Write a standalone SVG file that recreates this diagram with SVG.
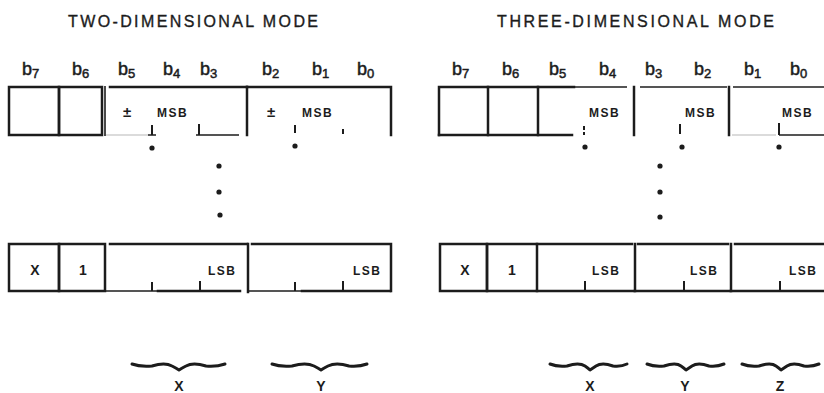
<svg xmlns="http://www.w3.org/2000/svg" width="824" height="393" viewBox="0 0 824 393">
<style>
  .bg{fill:#fff}
  .t{font-family:"Liberation Sans",Arial,sans-serif;fill:#1c1c1c}
  .title{font-size:16px;stroke:#1c1c1c;stroke-width:0.35}
  .bl{font-size:18px;stroke:#1c1c1c;stroke-width:0.5}
  .sub{font-size:13px}
  .lab{font-size:12px;font-weight:bold;letter-spacing:1.5px}
  .pm{font-size:15px;font-weight:bold}
  .big{font-size:14px;font-weight:bold;text-anchor:middle}
  .ln{stroke:#1c1c1c;stroke-width:2.5;fill:none;stroke-linecap:square}
  .thin{stroke:#1c1c1c;stroke-width:1.6;fill:none}
  .faint{stroke:#cfcfcf;stroke-width:1.5;fill:none}
  .tick{stroke:#1c1c1c;stroke-width:2;fill:none}
  .dot{fill:#1c1c1c}
  .brace{stroke:#1c1c1c;stroke-width:3;fill:none;stroke-linejoin:round;stroke-linecap:round}
</style>
<rect class="bg" x="0" y="0" width="824" height="393"/>

<!-- titles -->
<text class="t title" x="68" y="27" textLength="250" lengthAdjust="spacing">TWO-DIMENSIONAL MODE</text>
<text class="t title" x="497" y="27" textLength="277" lengthAdjust="spacing">THREE-DIMENSIONAL MODE</text>

<!-- bit labels left -->
<g id="bits-2d" class="t bl">
  <text x="22" y="75">b<tspan class="sub" dy="3">7</tspan></text>
  <text x="72" y="75">b<tspan class="sub" dy="3">6</tspan></text>
  <text x="118" y="75">b<tspan class="sub" dy="3">5</tspan></text>
  <text x="163" y="75">b<tspan class="sub" dy="3">4</tspan></text>
  <text x="200" y="75">b<tspan class="sub" dy="3">3</tspan></text>
  <text x="262" y="75">b<tspan class="sub" dy="3">2</tspan></text>
  <text x="312" y="75">b<tspan class="sub" dy="3">1</tspan></text>
  <text x="357" y="75">b<tspan class="sub" dy="3">0</tspan></text>
</g>
<!-- bit labels right -->
<g id="bits-3d" class="t bl">
  <text x="452" y="75">b<tspan class="sub" dy="3">7</tspan></text>
  <text x="502" y="75">b<tspan class="sub" dy="3">6</tspan></text>
  <text x="549" y="75">b<tspan class="sub" dy="3">5</tspan></text>
  <text x="599" y="75">b<tspan class="sub" dy="3">4</tspan></text>
  <text x="645" y="75">b<tspan class="sub" dy="3">3</tspan></text>
  <text x="694" y="75">b<tspan class="sub" dy="3">2</tspan></text>
  <text x="744" y="75">b<tspan class="sub" dy="3">1</tspan></text>
  <text x="790" y="75">b<tspan class="sub" dy="3">0</tspan></text>
</g>

<!-- ===== 2D top word ===== -->
<g id="td-b7">
  <rect class="ln" x="9" y="87" width="50" height="48"/>
</g>
<g id="td-b6">
  <rect class="ln" x="59" y="87" width="43" height="48"/>
</g>
<g id="td-x-msb">
  <path class="thin" d="M105,86 V136"/>
  <path class="ln" d="M110,87 H247"/>
  <path class="faint" d="M106,135 H148"/>
  <path class="tick" d="M152,125 V135"/>
  <path class="tick" d="M199,124 V135"/>
  <path class="thin" d="M148,135 H156 M196,135 H239"/>
  <path class="ln" d="M247,87 V135"/>
  <text class="t pm" x="123" y="117">±</text>
  <text class="t lab" x="157" y="117">MSB</text>
</g>
<g id="td-y-msb">
  <path class="ln" d="M247,87 H391 V135"/>
  <path class="tick" d="M295,125 V133"/>
  <path class="tick" d="M343,129 V134"/>
  <text class="t pm" x="267" y="117">±</text>
  <text class="t lab" x="302" y="117">MSB</text>
</g>

<!-- ===== 2D bottom word ===== -->
<g id="bd-b7">
  <rect class="ln" x="9" y="244" width="50" height="47"/>
  <text class="t big" x="35" y="275">X</text>
</g>
<g id="bd-b6">
  <rect class="ln" x="59" y="244" width="46" height="47"/>
  <text class="t big" x="83" y="275">1</text>
</g>
<g id="bd-x-lsb">
  <path class="ln" d="M110,244 H247"/>
  <path class="thin" d="M105,291 H158"/>
  <path class="ln" d="M158,291 H240"/>
  <path class="tick" d="M152,282 V291"/>
  <path class="tick" d="M200,281 V291"/>
  <path class="ln" d="M248,244 V292"/>
  <text class="t lab" x="208" y="275">LSB</text>
</g>
<g id="bd-y-lsb">
  <path class="ln" d="M252,244 H391 V291"/>
  <path class="thin" d="M249,291 H302"/>
  <path class="ln" d="M302,291 H390"/>
  <path class="tick" d="M295,282 V291"/>
  <path class="tick" d="M343,281 V291"/>
  <text class="t lab" x="353" y="275">LSB</text>
</g>

<!-- ===== 3D top word ===== -->
<g id="tt-b7">
  <path class="ln" d="M439,135 V87 H488 V135"/>
</g>
<g id="tt-b6">
  <path class="ln" d="M488,87 H538 V135"/>
  <path class="ln" d="M439,135 H572"/>
</g>
<g id="tt-x-msb">
  <path class="ln" d="M538,87 H574"/>
  <path class="thin" d="M574,87 H627"/>
  <path class="tick" d="M584,126 V130 M584,132 V135"/>
  <path class="ln" d="M634,87 V135"/>
  <text class="t lab" x="589" y="117">MSB</text>
</g>
<g id="tt-y-msb">
  <path class="thin" d="M640,87 H727"/>
  <path class="tick" d="M680,124 V134"/>
  <path class="ln" d="M729,87 V135"/>
  <text class="t lab" x="685" y="117">MSB</text>
</g>
<g id="tt-z-msb">
  <path class="thin" d="M733,87 H824"/>
  <path class="faint" d="M732,135 H776"/>
  <path class="tick" d="M779,123 V135"/>
  <path class="thin" d="M779,135 H824"/>
  <text class="t lab" x="782" y="117">MSB</text>
</g>

<!-- ===== 3D bottom word ===== -->
<g id="bt-b7">
  <rect class="ln" x="440" y="244" width="47" height="47"/>
  <text class="t big" x="465" y="275">X</text>
</g>
<g id="bt-b6">
  <rect class="ln" x="487" y="244" width="50" height="47"/>
  <text class="t big" x="512" y="275">1</text>
</g>
<g id="bt-x-lsb">
  <path class="ln" d="M537,244 H632"/>
  <path class="ln" d="M537,291 H633"/>
  <path class="tick" d="M585,281 V291"/>
  <path class="ln" d="M635,244 V291"/>
  <text class="t lab" x="592" y="275">LSB</text>
</g>
<g id="bt-y-lsb">
  <path class="ln" d="M638,244 H728"/>
  <path class="ln" d="M635,291 H729"/>
  <path class="tick" d="M684,281 V291"/>
  <path class="ln" d="M731,244 V291"/>
  <text class="t lab" x="690" y="275">LSB</text>
</g>
<g id="bt-z-lsb">
  <path class="ln" d="M735,244 H824"/>
  <path class="ln" d="M731,291 H824"/>
  <path class="tick" d="M780,281 V291"/>
  <text class="t lab" x="789" y="275">LSB</text>
</g>

<!-- connectors: ellipsis dots -->
<g id="connectors">
  <circle class="dot" cx="152" cy="148" r="2.6"/>
  <circle class="dot" cx="295" cy="146" r="2.6"/>
  <circle class="dot" cx="219" cy="166" r="2.6"/>
  <circle class="dot" cx="219" cy="192" r="2.6"/>
  <circle class="dot" cx="220" cy="215" r="2.6"/>
  <circle class="dot" cx="585" cy="147" r="2.6"/>
  <circle class="dot" cx="682" cy="147" r="2.6"/>
  <circle class="dot" cx="779" cy="147" r="2.6"/>
  <circle class="dot" cx="660" cy="166" r="2.6"/>
  <circle class="dot" cx="660" cy="192" r="2.6"/>
  <circle class="dot" cx="660" cy="217" r="2.6"/>
</g>

<!-- braces -->
<g id="braces">
  <path class="brace" d="M132,364 Q140,367 152,366 Q165,362 172,366 Q176,368 179,370 Q182,368 186,366 Q193,362 206,366 Q216,367 225,364"/>
  <path class="brace" d="M272,364 Q280,367 292,366 Q306,362 314,366 Q318,368 321,370 Q324,368 328,366 Q336,362 349,366 Q359,367 367,364"/>
  <path class="brace" d="M550,364 Q557,367 567,366 Q579,362 585,366 Q588,368 590,370 Q593,368 596,366 Q602,362 613,366 Q621,367 627,364"/>
  <path class="brace" d="M647,364 Q654,367 664,366 Q676,362 681,366 Q684,368 686,370 Q689,368 692,366 Q698,362 709,366 Q717,367 724,364"/>
  <path class="brace" d="M742,364 Q749,367 759,366 Q771,362 776,366 Q779,368 781,370 Q784,368 787,366 Q793,362 804,366 Q812,367 819,364"/>
</g>
<g id="field-labels" class="t big">
  <text x="179" y="391">X</text>
  <text x="321" y="391">Y</text>
  <text x="590" y="391">X</text>
  <text x="685" y="391">Y</text>
  <text x="780" y="391">Z</text>
</g>
</svg>
